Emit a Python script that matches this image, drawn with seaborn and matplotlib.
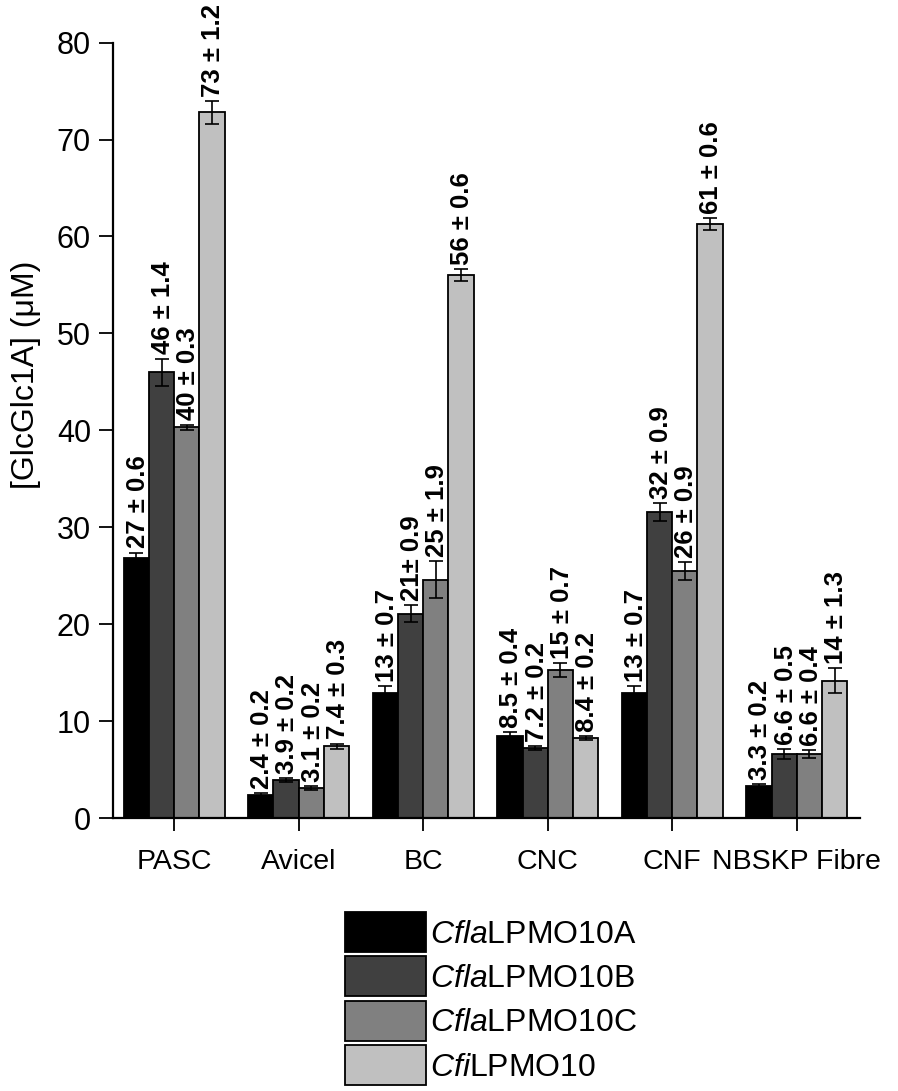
import matplotlib
matplotlib.use("Agg")
import matplotlib.pyplot as plt
import seaborn as sns
import pandas as pd
import numpy as np

categories = ["PASC", "Avicel", "BC", "CNC", "CNF", "NBSKP Fibre"]
enzymes = ["CflaLPMO10A", "CflaLPMO10B", "CflaLPMO10C", "CfiLPMO10"]
legend_labels = [r"$\mathit{Cfla}$LPMO10A", r"$\mathit{Cfla}$LPMO10B",
                 r"$\mathit{Cfla}$LPMO10C", r"$\mathit{Cfi}$LPMO10"]

mean_A = [26.8, 2.4, 12.9, 8.5, 12.9, 3.3]
mean_B = [46.0, 3.9, 21.1, 7.2, 31.6, 6.6]
mean_C = [40.3, 3.1, 24.6, 15.3, 25.5, 6.6]
mean_D = [72.8, 7.4, 56.0, 8.3, 61.3, 14.2]

err_A = [0.6, 0.2, 0.7, 0.4, 0.7, 0.2]
err_B = [1.4, 0.2, 0.9, 0.2, 0.9, 0.5]
err_C = [0.3, 0.2, 1.9, 0.7, 0.9, 0.4]
err_D = [1.2, 0.3, 0.6, 0.2, 0.6, 1.3]

text_A = ["27 ± 0.6", "2.4 ± 0.2", "13 ± 0.7", "8.5 ± 0.4", "13 ± 0.7", "3.3 ± 0.2"]
text_B = ["46 ± 1.4", "3.9 ± 0.2", "21± 0.9", "7.2 ± 0.2", "32 ± 0.9", "6.6 ± 0.5"]
text_C = ["40 ± 0.3", "3.1 ± 0.2", "25 ± 1.9", "15 ± 0.7", "26 ± 0.9", "6.6 ± 0.4"]
text_D = ["73 ± 1.2", "7.4 ± 0.3", "56 ± 0.6", "8.4 ± 0.2", "61 ± 0.6", "14 ± 1.3"]

colors = ["#000000", "#404040", "#808080", "#c0c0c0"]

means = [mean_A, mean_B, mean_C, mean_D]
errs = [err_A, err_B, err_C, err_D]
texts = [text_A, text_B, text_C, text_D]

rows = []
for e, m in zip(enzymes, means):
    for c, v in zip(categories, m):
        rows.append({"Substrate": c, "Enzyme": e, "Value": v})
df = pd.DataFrame(rows)

sns.set_style("ticks")
plt.rcParams["font.family"] = ["Liberation Sans", "DejaVu Sans"]
plt.rcParams["mathtext.fontset"] = "custom"
plt.rcParams["mathtext.it"] = "Liberation Sans:italic"
plt.rcParams["mathtext.rm"] = "Liberation Sans"
for k in ["text.color", "axes.labelcolor", "xtick.color", "ytick.color", "axes.edgecolor"]:
    plt.rcParams[k] = "black"

fig = plt.figure(figsize=(8.98, 10.91), dpi=100)
ax = fig.add_axes([0.126, 0.250, 0.832, 0.711])

sns.barplot(data=df, x="Substrate", y="Value", hue="Enzyme",
            order=categories, hue_order=enzymes, palette=colors,
            errorbar=None, width=0.81, edgecolor="black", linewidth=1.3,
            saturation=1, legend=False, ax=ax)

for cont, er, tx in zip(ax.containers, errs, texts):
    for bar, e, t in zip(cont.patches, er, tx):
        x = bar.get_x() + bar.get_width() / 2
        h = bar.get_height()
        ax.errorbar(x, h, yerr=e, fmt="none", ecolor="black",
                    elinewidth=1.2, capsize=5, capthick=1.2, zorder=5)
        ax.annotate(t, xy=(x, h + e), xytext=(1, 3), textcoords="offset points",
                    rotation=90, ha="center", va="bottom",
                    fontsize=18.5, fontweight="bold")

ax.set_ylim(0, 80)
ax.set_xlim(-0.49, 5.51)
ax.set_yticks(np.arange(0, 81, 10))
ax.set_xlabel("")
ax.set_ylabel("[GlcGlc1A] (μM)", fontsize=23)
ax.yaxis.set_label_coords(-0.097, 0.572)
ax.tick_params(axis="y", labelsize=22, length=10, width=1.3, pad=6)
ax.tick_params(axis="x", labelsize=20.5, length=9, width=1.3, pad=13)
for s in ["left", "bottom"]:
    ax.spines[s].set_linewidth(1.6)
sns.despine(ax=ax)

fig.legend(handles=list(ax.containers), labels=legend_labels,
           loc="upper left", bbox_to_anchor=(345 / 898, 1 - 912 / 1091),
           frameon=False, fontsize=23, handlelength=2.55, handleheight=1.55,
           handletextpad=0.1, labelspacing=0.14, borderpad=0, borderaxespad=0)

fig.savefig("out.png", dpi=100)
